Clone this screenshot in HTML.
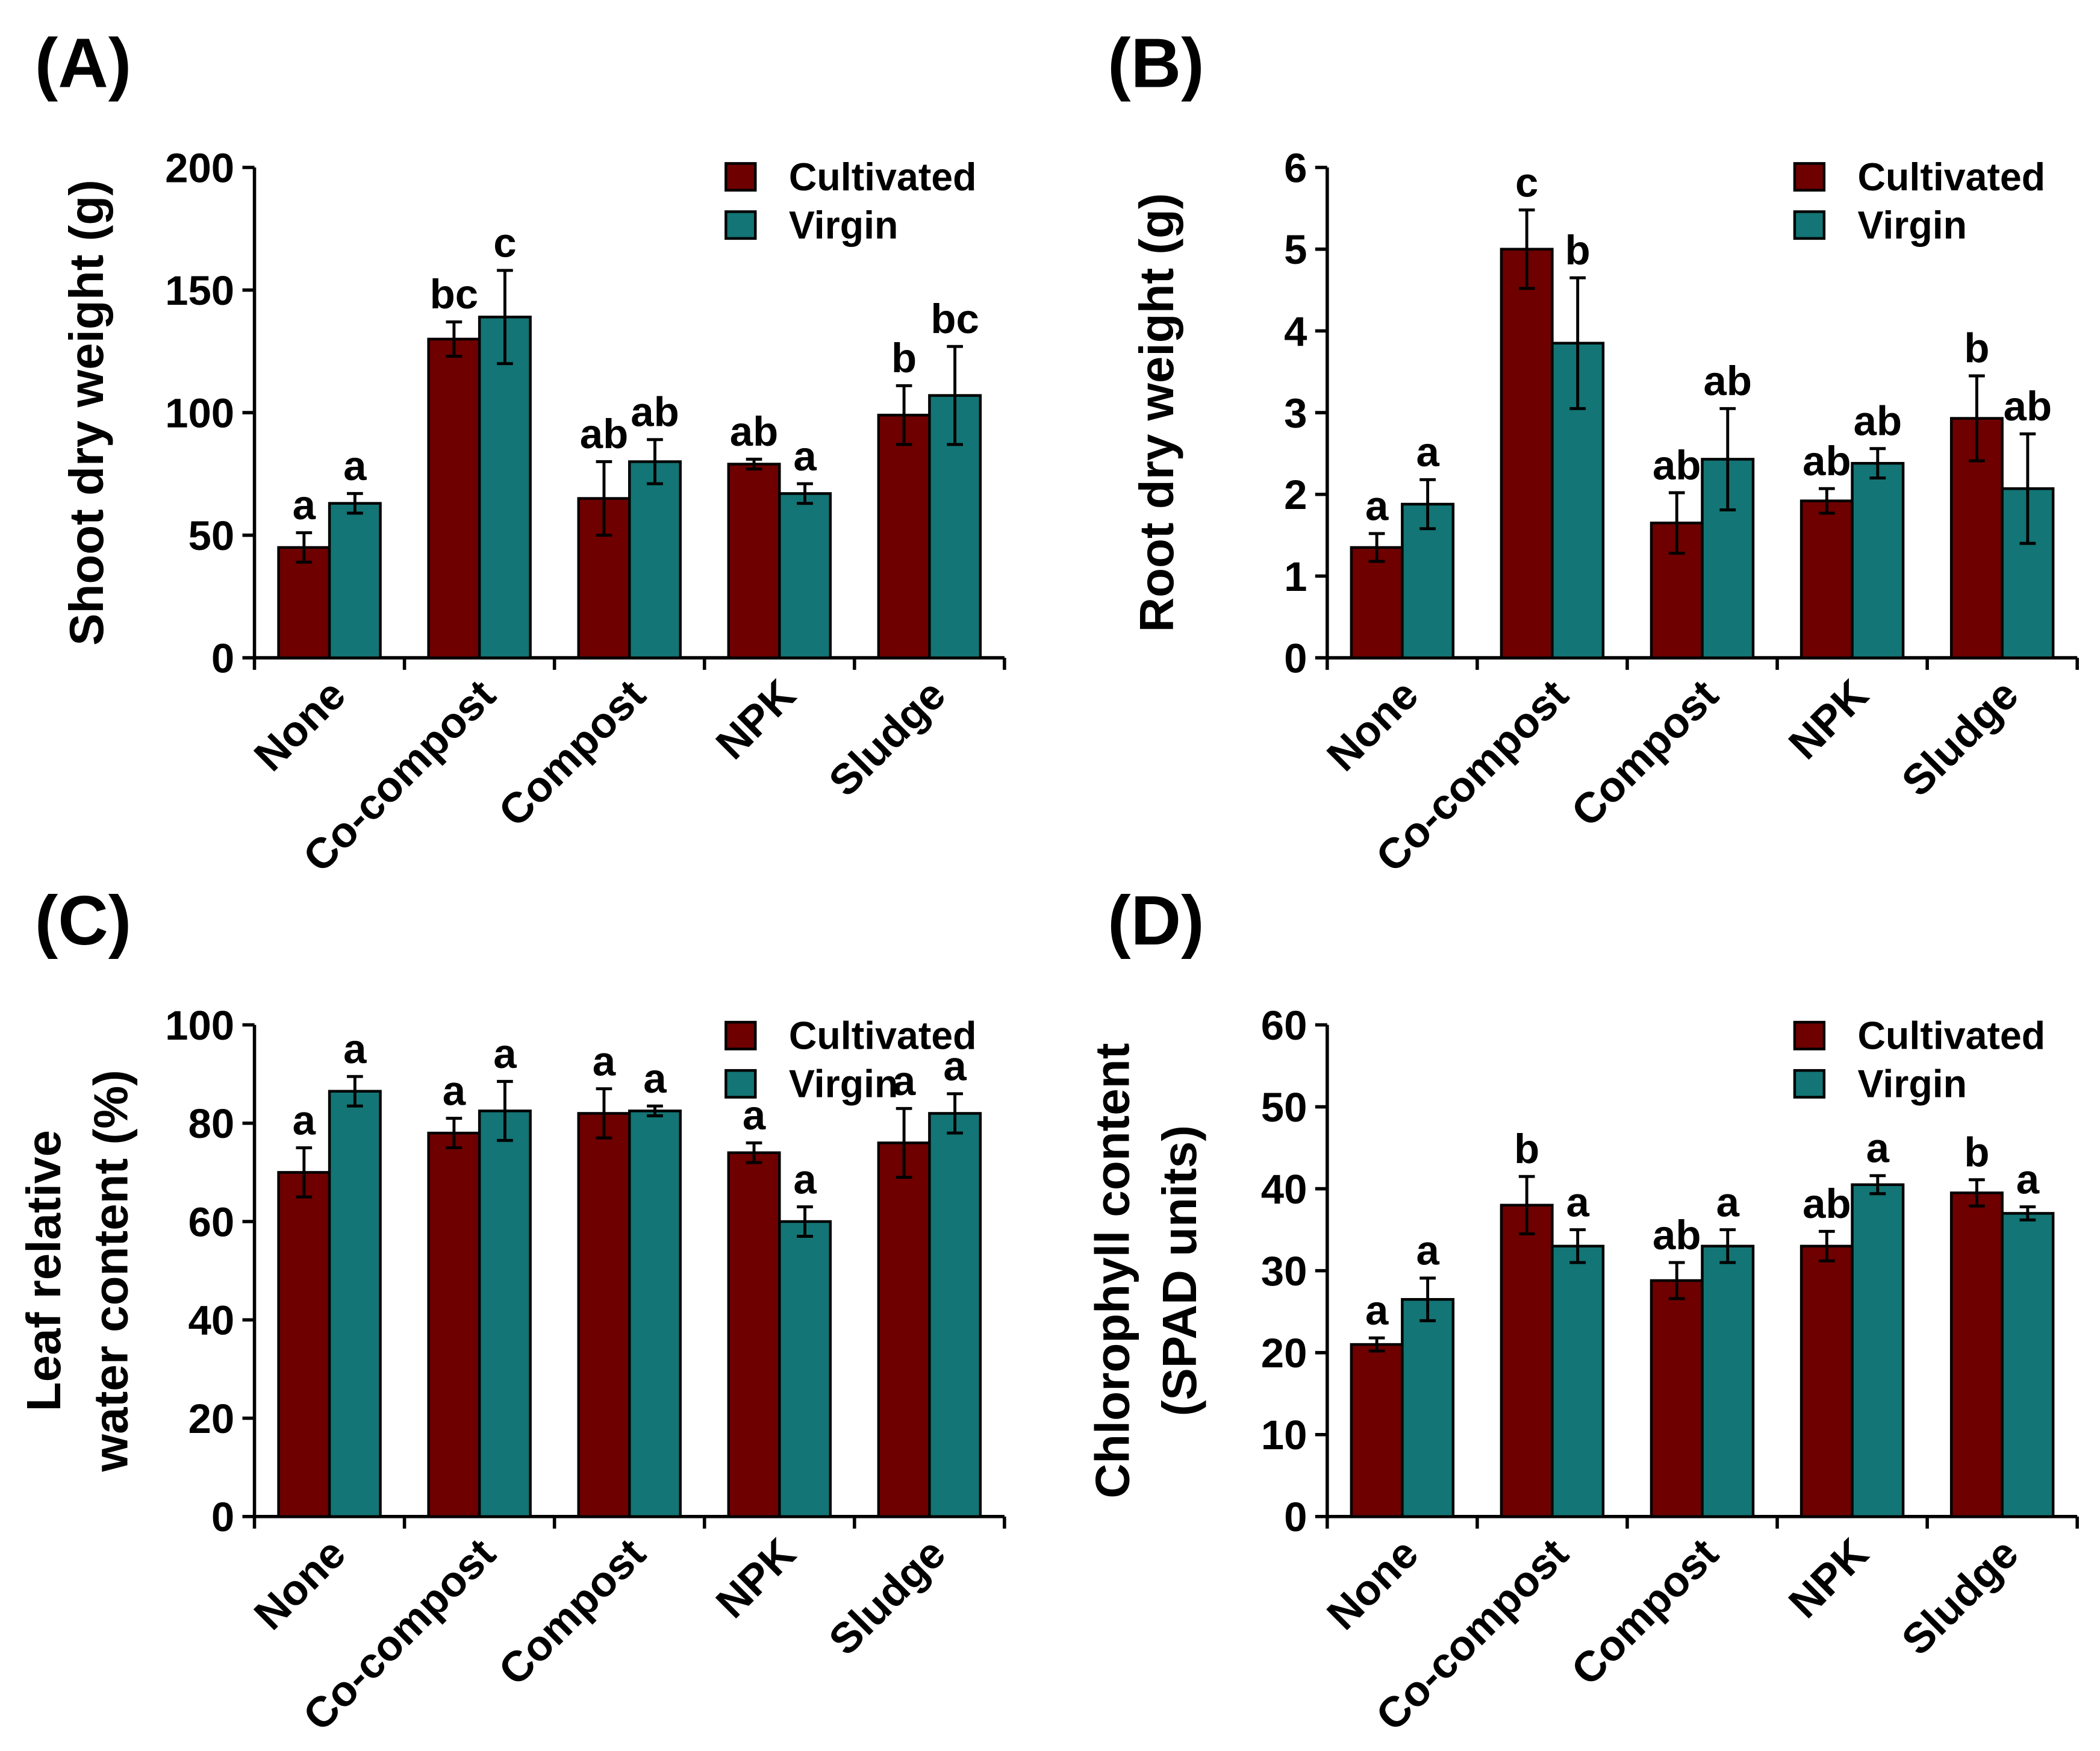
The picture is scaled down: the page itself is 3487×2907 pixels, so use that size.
<!DOCTYPE html>
<html><head><meta charset="utf-8"><style>
html,body{margin:0;padding:0;background:#fff;}
svg{display:block;font-family:"Liberation Sans",Arial,sans-serif;font-weight:bold;}
</style></head><body>
<svg id="fig" width="3487" height="2907" viewBox="0 0 1568 1307" preserveAspectRatio="none" xmlns="http://www.w3.org/2000/svg"></svg>
<script>
const categories = ["None","Co-compost","Compost","NPK","Sludge"];
const seriesNames = ["Cultivated","Virgin"];
// Panel A
const aCult = [45,130,65,79,99];
const aCultErr = [6,7,15,2,12];
const aVirg = [63,139,80,67,107];
const aVirgErr = [4,19,9,4,20];
const aCultLet = ["a","bc","ab","ab","b"];
const aVirgLet = ["a","c","ab","a","bc"];
const aTicks = [0,50,100,150,200];
// Panel B
const bCult = [1.35,5.0,1.65,1.92,2.93];
const bCultErr = [0.17,0.48,0.37,0.15,0.52];
const bVirg = [1.88,3.85,2.43,2.38,2.07];
const bVirgErr = [0.3,0.8,0.62,0.18,0.67];
const bCultLet = ["a","c","ab","ab","b"];
const bVirgLet = ["a","b","ab","ab","ab"];
const bTicks = [0,1,2,3,4,5,6];
// Panel C
const cCult = [70,78,82,74,76];
const cCultErr = [5,3,5,2,7];
const cVirg = [86.5,82.5,82.5,60,82];
const cVirgErr = [3,6,1,3,4];
const cCultLet = ["a","a","a","a","a"];
const cVirgLet = ["a","a","a","a","a"];
const cTicks = [0,20,40,60,80,100];
// Panel D
const dCult = [21,38,28.8,33,39.5];
const dCultErr = [0.8,3.5,2.2,1.8,1.6];
const dVirg = [26.5,33,33,40.5,37];
const dVirgErr = [2.6,2,2,1.1,0.8];
const dCultLet = ["a","b","ab","ab","b"];
const dVirgLet = ["a","a","a","a","a"];
const dTicks = [0,10,20,30,40,50,60];

const NS="http://www.w3.org/2000/svg";
const svg=document.getElementById('fig');
const RED="#6e0000", TEAL="#137575";
function mk(tag,attrs,parent){const e=document.createElementNS(NS,tag);for(const k in attrs)e.setAttribute(k,attrs[k]);(parent||svg).appendChild(e);return e;}

function panel(key,letter,x0,y0,y1,ymax,ticks,cult,cultErr,virg,virgErr,cLet,vLet,titles,titleX,legX,legY){
  const g=mk('g',{});
  
  
  const W=112, x1=x0+W*5;
  const ys=v=>y0-(v/ymax)*(y0-y1);
  const xs=i=>x0+W*i;
  const pl=mk('text',{x:x0-164,y:y1-60,'font-size':52},g); pl.textContent='('+letter+')';
  
  
  const ya=mk('line',{x1:x0,y1:y1,x2:x0,y2:y0+1,stroke:'#000','stroke-width':2.5},g);
  
  
  const xa=mk('line',{x1:x0-1,y1:y0,x2:x1,y2:y0,stroke:'#000','stroke-width':2.5},g);
  
  
  ticks.forEach(t=>{
    mk('line',{x1:x0-9,y1:ys(t),x2:x0,y2:ys(t),stroke:'#000','stroke-width':2.5},g);
    const tl=mk('text',{x:x0-15,y:ys(t)+11,'font-size':31,'text-anchor':'end'},g); tl.textContent=t;
    
    
  });
  for(let i=0;i<=5;i++) mk('line',{x1:xs(i),y1:y0,x2:xs(i),y2:y0+9,stroke:'#000','stroke-width':2.5},g);
  categories.forEach((c,i)=>{
    const cx=xs(i)+W/2-2, cy=y0+14;
    const t=mk('text',{x:cx,y:cy,'font-size':32,'text-anchor':'end',transform:`rotate(-45 ${cx} ${cy})`,dy:'0.7em'},g); t.textContent=c;
    
    
  });
  const bw=38;
  const series=[[cult,cultErr,cLet,RED,0],[virg,virgErr,vLet,TEAL,1]];
  series.forEach(([vals,errs,lets,col,s])=>{
    vals.forEach((v,i)=>{
      const bx=xs(i)+W/2-bw+s*bw;
      const r=mk('rect',{x:bx,y:ys(v),width:bw,height:y0-ys(v),fill:col,stroke:'#000','stroke-width':2},g);
      
      
      const mx=bx+bw/2, top=ys(v+errs[i]), bot=ys(v-errs[i]);
      const eb=mk('path',{d:`M${mx},${top}V${bot}M${mx-6},${top}H${mx+6}M${mx-6},${bot}H${mx+6}`,stroke:'#000','stroke-width':2.2,fill:'none'},g);
      
      
      const lt=mk('text',{x:mx,y:top-10,'font-size':31,'text-anchor':'middle'},g); lt.textContent=lets[i];
      
      
    });
  });
  [[RED,'Cultivated'],[TEAL,'Virgin']].forEach(([col,name],k)=>{
    const lr=mk('rect',{x:legX,y:legY+k*36,width:22,height:20,fill:col,stroke:'#000','stroke-width':2},g);
    
    
    const lt=mk('text',{x:legX+47,y:legY+k*36+20,'font-size':29},g); lt.textContent=name;
    
    
  });
  const cy=(y0+y1)/2;
  titles.forEach((tt,k)=>{
    const tx=titleX[k];
    const t=mk('text',{x:tx,y:cy,'font-size':36,'text-anchor':'middle',transform:`rotate(-90 ${tx} ${cy})`},g); t.textContent=tt;
    
    
  });
}
panel('a','A',190,491,125,200,aTicks,aCult,aCultErr,aVirg,aVirgErr,aCultLet,aVirgLet,["Shoot dry weight (g)"],[77],542,122);
panel('b','B',991,491,125,6,bTicks,bCult,bCultErr,bVirg,bVirgErr,bCultLet,bVirgLet,["Root dry weight (g)"],[876],1340,122);
panel('c','C',190,1132,765,100,cTicks,cCult,cCultErr,cVirg,cVirgErr,cCultLet,cVirgLet,["Leaf relative","water content (%)"],[45,95],542,763);
panel('d','D',991,1132,765,60,dTicks,dCult,dCultErr,dVirg,dVirgErr,dCultLet,dVirgLet,["Chlorophyll content","(SPAD units)"],[843,893],1340,763);
</script>
</body></html>
